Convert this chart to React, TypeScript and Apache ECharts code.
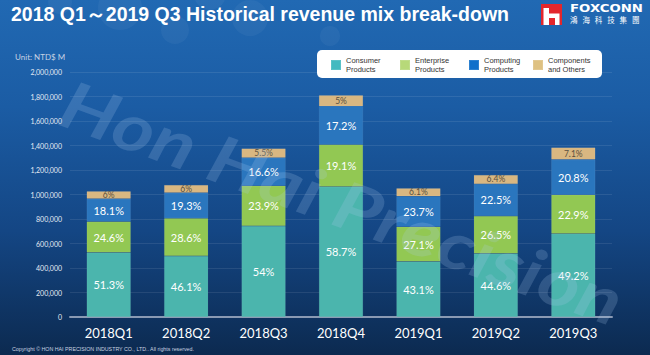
import React, { useEffect, useRef } from 'react';
import * as echarts from 'echarts';

const categories = ['2018Q1', '2018Q2', '2018Q3', '2018Q4', '2019Q1', '2019Q2', '2019Q3'];
const consumer = [526300, 497000, 742500, 1062500, 452600, 517400, 680400];
const enterprise = [252400, 308300, 328600, 345700, 284600, 307400, 316700];
const computing = [185700, 208100, 228300, 311300, 248900, 261000, 287700];
const components = [61600, 64700, 75600, 90500, 64100, 74200, 98200];

const consumerPct = ['51.3%', '46.1%', '54%', '58.7%', '43.1%', '44.6%', '49.2%'];
const enterprisePct = ['24.6%', '28.6%', '23.9%', '19.1%', '27.1%', '26.5%', '22.9%'];
const computingPct = ['18.1%', '19.3%', '16.6%', '17.2%', '23.7%', '22.5%', '20.8%'];
const componentsPct = ['6%', '6%', '5.5%', '5%', '6.1%', '6.4%', '7.1%'];

const seriesNames = ['Consumer Products', 'Enterprise Products', 'Computing Products', 'Components and Others'];
const legendLines = ['Consumer\nProducts', 'Enterprise\nProducts', 'Computing\nProducts', 'Components\nand Others'];

const yMin = 0;
const yMax = 2000000;
const yStep = 200000;

const titleText = '2018 Q1～2019 Q3 Historical revenue mix break-down';
const unitText = 'Unit: NTD$ M';
const brandText = 'FOXCONN';
const brandChars = ['鴻', '海', '科', '技', '集', '團'];
const watermarkText = 'Hon Hai Precision';
const copyrightText = 'Copyright © HON HAI PRECISION INDUSTRY CO., LTD.. All rights reserved.';

const barColors = ['#4BB5AD', '#92C853', '#2A76BE', '#D9B781'];
const legendColors = ['#43BAC0', '#B7D979', '#1170CA', '#DEC182'];
const legendTextWidths = [53, 53, 48, 43];

const values = [consumer, enterprise, computing, components];
const pcts = [consumerPct, enterprisePct, computingPct, componentsPct];

export default function App() {
  const ref = useRef<HTMLDivElement>(null);
  useEffect(() => {
    const chart = echarts.init(ref.current as HTMLDivElement, null, { renderer: 'svg' });
    const bokeh = [
      [120, 8, 22], [175, 30, 14], [60, 2, 12], [250, 18, 18], [330, 36, 10], [210, -6, 16]
    ];
    const option: any = {
      animation: false,
      backgroundColor: 'transparent',
      grid: { left: 70, right: 38, top: 72, bottom: 38, containLabel: false },
      legend: {
        left: 317,
        top: 50,
        orient: 'horizontal',
        itemWidth: 10,
        itemHeight: 10,
        itemGap: 0,
        backgroundColor: '#FFFFFF',
        borderRadius: 5,
        padding: [6, 11, 4, 13],
        selectedMode: false,
        data: seriesNames.map((n, i) => ({
          name: n,
          icon: 'rect',
          itemStyle: { color: legendColors[i] },
          textStyle: { width: legendTextWidths[i] }
        })),
        formatter: (n: string) => legendLines[seriesNames.indexOf(n)],
        textStyle: {
          fontSize: 7.5,
          lineHeight: 9,
          color: '#333333',
          fontFamily: "'Liberation Sans', Arial, sans-serif"
        }
      },
      xAxis: {
        type: 'category',
        data: categories,
        axisLine: { show: true, lineStyle: { color: '#8A9AB3', width: 2 } },
        axisTick: { show: false },
        axisLabel: { color: '#FFFFFF', fontSize: 13, fontFamily: 'Lato', margin: 9 }
      },
      yAxis: {
        type: 'value',
        min: yMin,
        max: yMax,
        interval: yStep,
        axisLine: { show: false },
        axisTick: { show: false },
        splitLine: { lineStyle: { color: 'rgba(255,255,255,0.09)', width: 1 } },
        axisLabel: {
          color: '#E4EAF4',
          fontSize: 7,
          fontFamily: 'Lato',
          margin: 8,
          formatter: (v: number) => v.toLocaleString('en-US')
        }
      },
      series: values.map((v, i) => ({
        name: seriesNames[i],
        type: 'bar',
        stack: 'total',
        barWidth: '57%',
        data: v,
        itemStyle: { color: barColors[i], borderColor: 'rgba(255,255,255,0.12)', borderWidth: 0.5 },
        label: {
          show: true,
          position: 'inside',
          formatter: (p: any) => pcts[i][p.dataIndex],
          color: i === 3 ? '#5A5040' : '#FFFFFF',
          fontSize: i === 3 ? 8.5 : 11,
          fontFamily: 'Lato'
        },
        emphasis: { disabled: true }
      })),
      graphic: [
        {
          type: 'rect',
          z: -100,
          silent: true,
          shape: { x: 0, y: 0, width: 650, height: 355 },
          style: {
            fill: new echarts.graphic.LinearGradient(0, 0, 0, 1, [
              { offset: 0, color: '#2169B3' },
              { offset: 0.3, color: '#1B5CA4' },
              { offset: 0.65, color: '#144684' },
              { offset: 1, color: '#0C2A50' }
            ])
          }
        },
        ...bokeh.map((b) => ({
          type: 'circle',
          z: -90,
          silent: true,
          shape: { cx: b[0], cy: b[1], r: b[2] },
          style: { fill: 'rgba(255,255,255,0.045)' }
        })),
        {
          type: 'text',
          z: 100,
          silent: true,
          x: 64,
          y: 100,
          rotation: -0.35,
          scaleX: 1.2,
          style: {
            text: watermarkText,
            fill: 'rgba(175,205,240,0.2)',
            fontSize: 66,
            fontStyle: 'italic',
            fontWeight: 'bold',
            fontFamily: 'Lato',
            verticalAlign: 'middle'
          }
        },
        {
          type: 'text',
          x: 11,
          y: 14,
          style: {
            text: titleText,
            fill: '#FFFFFF',
            fontSize: 19.5,
            fontWeight: 'bold',
            fontFamily: "'Liberation Sans', Arial, sans-serif",
            verticalAlign: 'middle'
          }
        },
        {
          type: 'rect',
          shape: { x: 541, y: 4, width: 21, height: 21 },
          style: { fill: '#E3262C' }
        },
        {
          type: 'rect',
          shape: { x: 543.5, y: 8, width: 5.5, height: 17 },
          style: { fill: '#FFFFFF' }
        },
        {
          type: 'rect',
          shape: { x: 549, y: 13.5, width: 6, height: 4.5 },
          style: { fill: '#FFFFFF' }
        },
        {
          type: 'rect',
          shape: { x: 555, y: 13.5, width: 4.5, height: 11.5 },
          style: { fill: '#FFFFFF' }
        },
        {
          type: 'text',
          x: 570,
          y: 9,
          scaleX: 1.33,
          style: {
            text: brandText,
            fill: '#FFFFFF',
            fontSize: 10,
            fontWeight: 'bold',
            fontFamily: "'DejaVu Sans', sans-serif",
            verticalAlign: 'middle'
          }
        },
        ...brandChars.map((c, i) => ({
          type: 'text',
          x: 570 + i * 12.4,
          y: 19,
          style: {
            text: c,
            fill: '#FFFFFF',
            fontSize: 7.5,
            fontFamily: "'Noto Sans CJK TC', sans-serif",
            verticalAlign: 'middle'
          }
        })),
        {
          type: 'text',
          x: 15,
          y: 57,
          style: {
            text: unitText,
            fill: '#C6D2E4',
            fontSize: 8,
            fontFamily: 'Lato',
            verticalAlign: 'middle'
          }
        },
        {
          type: 'text',
          x: 12,
          y: 349,
          style: {
            text: copyrightText,
            fill: '#C8D2E0',
            fontSize: 5.3,
            fontFamily: "'Liberation Sans Narrow', 'Liberation Sans', Arial, sans-serif",
            verticalAlign: 'middle'
          }
        }
      ]
    };
    chart.setOption(option);
    return () => chart.dispose();
  }, []);
  return <div ref={ref} style={{ position: 'absolute', left: 0, top: 0, width: 650, height: 355 }} />;
}
